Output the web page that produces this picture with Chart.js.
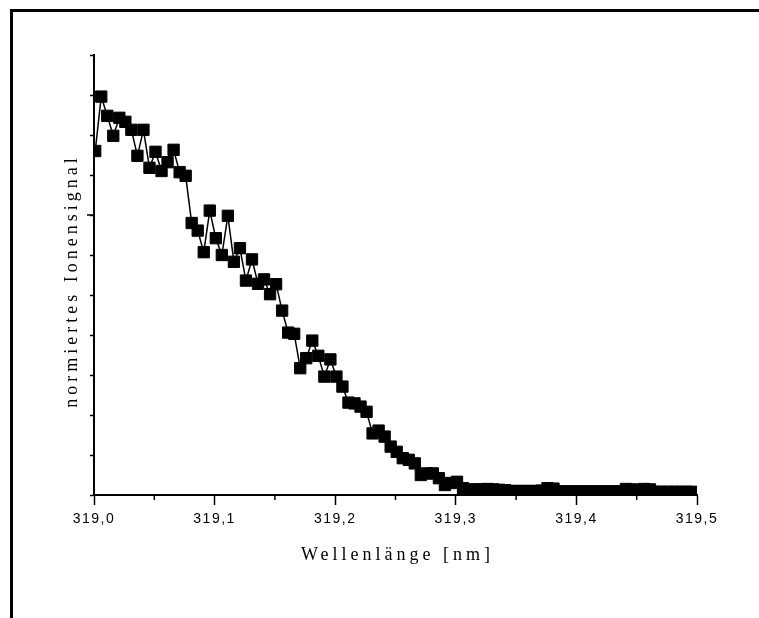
<!DOCTYPE html>
<html>
<head>
<meta charset="utf-8">
<script src="https://cdn.jsdelivr.net/npm/chart.js"></script>
<style>
  html, body { margin: 0; padding: 0; background: #fff; overflow: hidden; }
  #wrap { position: relative; width: 759px; height: 618px; overflow: hidden; }
  #frame { position: absolute; left: 10px; top: 9px; right: -10px; bottom: -10px; border-left: 3px solid #000; border-top: 3px solid #000; pointer-events: none; }
  canvas { display: block; }
</style>
</head>
<body>
<div id="wrap">
  <canvas id="chart" width="759" height="618"></canvas>
  <div id="frame"></div>
</div>
<script>
// wavelength grid (nm) and normalised ion signal
const wavelengths = [
  319.001, 319.006, 319.011, 319.016, 319.021, 319.026, 319.031, 319.036, 319.041, 319.046,
  319.051, 319.056, 319.061, 319.066, 319.071, 319.076, 319.081, 319.086, 319.091, 319.096,
  319.101, 319.106, 319.111, 319.116, 319.121, 319.126, 319.131, 319.136, 319.141, 319.146,
  319.151, 319.156, 319.161, 319.166, 319.171, 319.176, 319.181, 319.186, 319.191, 319.196,
  319.201, 319.206, 319.211, 319.216, 319.221, 319.226, 319.231, 319.236, 319.241, 319.246,
  319.251, 319.256, 319.261, 319.266, 319.271, 319.276, 319.281, 319.286, 319.291, 319.296,
  319.301, 319.306, 319.311, 319.316, 319.321, 319.326, 319.331, 319.336, 319.341, 319.346,
  319.351, 319.356, 319.361, 319.366, 319.371, 319.376, 319.381, 319.386, 319.391, 319.396,
  319.401, 319.406, 319.411, 319.416, 319.421, 319.426, 319.431, 319.436, 319.441, 319.446,
  319.451, 319.456, 319.461, 319.466, 319.471, 319.476, 319.481, 319.486, 319.491, 319.496,
];
const signal = [
  0.860, 0.996, 0.948, 0.898, 0.943, 0.933, 0.913, 0.848, 0.913, 0.818,
  0.858, 0.810, 0.832, 0.863, 0.807, 0.798, 0.680, 0.661, 0.607, 0.711,
  0.642, 0.600, 0.698, 0.583, 0.617, 0.536, 0.589, 0.528, 0.539, 0.502,
  0.527, 0.461, 0.406, 0.403, 0.317, 0.342, 0.386, 0.348, 0.296, 0.339,
  0.296, 0.271, 0.231, 0.229, 0.221, 0.208, 0.154, 0.161, 0.146, 0.121,
  0.108, 0.092, 0.088, 0.079, 0.050, 0.054, 0.054, 0.042, 0.025, 0.030,
  0.033, 0.017, 0.013, 0.014, 0.014, 0.015, 0.014, 0.013, 0.012, 0.010,
  0.010, 0.010, 0.010, 0.010, 0.011, 0.017, 0.016, 0.009, 0.009, 0.009,
  0.009, 0.009, 0.009, 0.009, 0.009, 0.009, 0.009, 0.009, 0.015, 0.014,
  0.009, 0.015, 0.014, 0.008, 0.008, 0.008, 0.008, 0.008, 0.008, 0.008,
];
const xTickLabels = ['319,0', '319,1', '319,2', '319,3', '319,4', '319,5'];
const xMinorTicks = [319.05, 319.15, 319.25, 319.35, 319.45];
const yLongTicks = [0.7];
const xTitle = 'Wellenlänge [nm]';
const yTitle = 'normiertes Ionensignal';

Chart.defaults.font.family = '"Liberation Sans", Arial, sans-serif';
Chart.defaults.color = '#000';

const extras = {
  id: 'extras',
  beforeDraw(chart) {
    chart.ctx.letterSpacing = '1.5px';
  },
  afterDraw(chart) {
    const { ctx, chartArea, scales: { x, y } } = chart;
    ctx.save();
    ctx.letterSpacing = '0px';
    ctx.strokeStyle = '#000';
    ctx.lineWidth = 1.5;
    ctx.beginPath();
    xMinorTicks.forEach(v => {
      const px = x.getPixelForValue(v);
      ctx.moveTo(px, chartArea.bottom);
      ctx.lineTo(px, chartArea.bottom + 5);
    });
    yLongTicks.forEach(v => {
      const py = y.getPixelForValue(v);
      ctx.moveTo(chartArea.left, py);
      ctx.lineTo(chartArea.left - 7, py);
    });
    ctx.stroke();

    ctx.fillStyle = '#000';
    ctx.font = '18px "Liberation Serif", "Times New Roman", serif';
    ctx.letterSpacing = '4px';
    ctx.textAlign = 'center';
    ctx.textBaseline = 'middle';
    ctx.fillText(xTitle, (chartArea.left + chartArea.right) / 2 + 2, chartArea.bottom + 60);
    ctx.translate(chartArea.left - 22, (chartArea.top + chartArea.bottom) / 2 + 6);
    ctx.rotate(-Math.PI / 2);
    ctx.fillText(yTitle, 0, 0);
    ctx.restore();
  },
};

new Chart(document.getElementById('chart'), {
  type: 'line',
  data: {
    datasets: [{
      data: wavelengths.map((w, i) => ({ x: w, y: signal[i] })),
      borderColor: '#000',
      borderWidth: 1.5,
      backgroundColor: '#000',
      pointStyle: 'rect',
      pointRadius: 8,
      pointBorderWidth: 1,
      pointBackgroundColor: '#000',
      pointBorderColor: '#000',
      tension: 0,
      clip: 0,
    }],
  },
  options: {
    responsive: false,
    animation: false,
    devicePixelRatio: 1,
    layout: { padding: { left: 0, top: 55, right: 62, bottom: 0 } },
    plugins: { legend: { display: false }, tooltip: { enabled: false } },
    scales: {
      x: {
        type: 'linear',
        min: 319.0,
        max: 319.5,
        afterFit: scale => { scale.height = 123; },
        ticks: {
          stepSize: 0.1,
          maxRotation: 0,
          padding: 6,
          color: '#000',
          font: { size: 14 },
          callback: (value, index) => xTickLabels[index],
        },
        grid: { drawOnChartArea: false, tickLength: 10, tickWidth: 1.5, tickColor: '#000' },
        border: { color: '#000', width: 2 },
      },
      y: {
        min: 0,
        max: 1.1,
        afterFit: scale => { scale.width = 94; },
        ticks: { display: false, stepSize: 0.1 },
        grid: { drawOnChartArea: false, tickLength: 4, tickWidth: 1.5, tickColor: '#000' },
        border: { color: '#000', width: 2 },
      },
    },
  },
  plugins: [extras],
});
</script>
</body>
</html>
